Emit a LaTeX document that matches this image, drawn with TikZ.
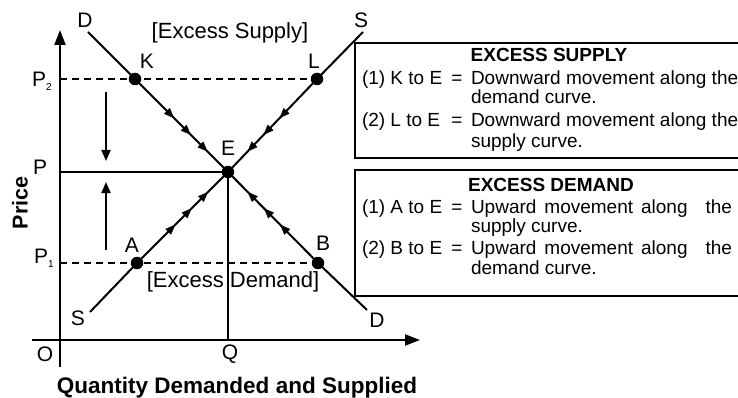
\documentclass[tikz,border=0pt]{standalone}
\usepackage{fontspec}
\setmainfont{Liberation Sans}
\usetikzlibrary{arrows.meta,decorations.markings}

\begin{document}
\begin{tikzpicture}[x=1pt,y=-1pt,
  every node/.style={inner sep=0pt, outer sep=0pt},
  axis/.style={line width=2.2pt, -{Triangle[length=15pt,width=11pt]}},
  curve/.style={line width=2pt},
  guide/.style={line width=2pt, dash pattern=on 7pt off 5pt},
  dot/.style={circle, fill=black, minimum size=12.5pt},
  lbl/.style={font=\fontsize{21}{21}\selectfont},
  note/.style={font=\fontsize{22}{22}\selectfont},
  panel/.style={line width=2pt},
  boxtext/.style={font=\fontsize{19}{19}\selectfont, anchor=base west},
  boxeq/.style={font=\fontsize{19}{19}\selectfont, anchor=base},
  boxtitle/.style={font=\fontsize{19}{19}\selectfont\bfseries, anchor=base},
  move/.style={line width=2pt, -{Triangle[length=11pt,width=9pt]}},
  flow/.style={decorate, decoration={markings,
     mark=at position 0.42 with {\arrow{Triangle[length=10pt,width=8pt]}},
     mark=at position 0.60 with {\arrow{Triangle[length=10pt,width=8pt]}},
     mark=at position 0.78 with {\arrow{Triangle[length=10pt,width=8pt]}}}}
]
\useasboundingbox (0,0) rectangle (738,398);
\clip (0,0) rectangle (738,398);
\fill[white] (0,0) rectangle (738,398);

% axes
\coordinate (O) at (60,340);
\coordinate (ytop) at (60,30);
\coordinate (ybot) at (60,367);
\coordinate (xleft) at (32,340);
\coordinate (xright) at (420,340);
\draw[axis] (ybot) -- (ytop);
\draw[axis] (xleft) -- (xright);

% points on the curves
\node[dot] (E) at (228,172) {};
\node[dot] (K) at (135,79) {};
\node[dot] (L) at (317,79) {};
\node[dot] (A) at (137,263) {};
\node[dot] (B) at (318,263) {};
\coordinate (Dtop) at (88,32);
\coordinate (Dbot) at (367,310);
\coordinate (Sbot) at (90,312);
\coordinate (Stop) at (363,32);
\coordinate (P2) at (60,79);
\coordinate (P) at (60,172);
\coordinate (P1) at (60,263);
\coordinate (Q) at (228,340);

% demand and supply curves
\draw[curve] (Dtop) -- (K.center) -- (E.center) -- (B.center) -- (Dbot);
\draw[curve] (Sbot) -- (A.center) -- (E.center) -- (L.center) -- (Stop);

% price levels
\draw[guide] (P2) -- (L.center);
\draw[guide] (P1) -- (B.center);
\draw[curve] (P) -- (E.center);
\draw[curve] (Q) -- (E.center);

% movements towards equilibrium
\path[flow] (K.center) -- (E.center);
\path[flow] (L.center) -- (E.center);
\path[flow] (A.center) -- (E.center);
\path[flow] (B.center) -- (E.center);

\coordinate (dn1) at (106,92);
\coordinate (dn2) at (106,161);
\coordinate (up1) at (106,250);
\coordinate (up2) at (106,182);
\draw[move] (dn1) -- (dn2);
\draw[move] (up1) -- (up2);

% point labels
\node[lbl] (lD) at (85,20) {D};
\node[lbl] (lS) at (361,20) {S};
\node[lbl] (lK) at (147,61) {K};
\node[lbl] (lL) at (314,61) {L};
\node[lbl] (lE) at (228,148) {E};
\node[lbl] (lA) at (132,245) {A};
\node[lbl] (lB) at (323,243) {B};
\node[lbl] (lS2) at (78,318) {S};
\node[lbl] (lD2) at (377,320) {D};
\node[lbl] (lO) at (45,354) {O};
\node[lbl] (lQ) at (230,354) {Q};
\node[lbl, anchor=base west] (lP2) at (32,87) {P\raisebox{-4pt}{\fontsize{10}{10}\selectfont 2}};
\node[lbl, anchor=base west] (lP) at (33,175) {P};
\node[lbl, anchor=base west] (lP1) at (34,263) {P\raisebox{-4pt}{\fontsize{10}{10}\selectfont 1}};

\node[font=\fontsize{21.5}{21.5}\selectfont\bfseries, rotate=90] (price) at (20,203) {Price};
\node[font=\fontsize{22.5}{22.5}\selectfont\bfseries, anchor=base] (xlabel) at (237,393) {Quantity Demanded and Supplied};

\node[note] (es) at (230,33) {[Excess Supply]};
\node[note] (ed) at (233,282) {[Excess Demand]};

% explanation panels
\draw[panel] (355,43) rectangle (750,158);
\draw[panel] (355,170) rectangle (750,296);

\node[boxtitle] (t1) at (549,62) {EXCESS SUPPLY};
\node[boxtext] (k1) at (362,85) {(1) K to E};
\node[boxeq] (eq1) at (457,85) {=};
\node[boxtext] (m1) at (471,85) {Downward movement along the};
\node[boxtext] (m1b) at (471,104) {demand curve.};
\node[boxtext] (k2) at (362,127) {(2) L to E};
\node[boxeq] (eq2) at (457,127) {=};
\node[boxtext] (m2) at (471,127) {Downward movement along the};
\node[boxtext] (m2b) at (471,148) {supply curve.};

\node[boxtitle] (t2) at (551,191) {EXCESS DEMAND};
\node[boxtext] (a1) at (362,213) {(1) A to E};
\node[boxeq] (eq3) at (457,213) {=};
\node[boxtext] (n1) at (471,213) {Upward\hspace{8pt}movement\hspace{8pt}along\hspace{18pt}the};
\node[boxtext] (n1b) at (471,232) {supply curve.};
\node[boxtext] (a2) at (362,254) {(2) B to E};
\node[boxeq] (eq4) at (457,254) {=};
\node[boxtext] (n2) at (471,254) {Upward\hspace{8pt}movement\hspace{8pt}along\hspace{18pt}the};
\node[boxtext] (n2b) at (471,274) {demand curve.};
\end{tikzpicture}
\end{document}
